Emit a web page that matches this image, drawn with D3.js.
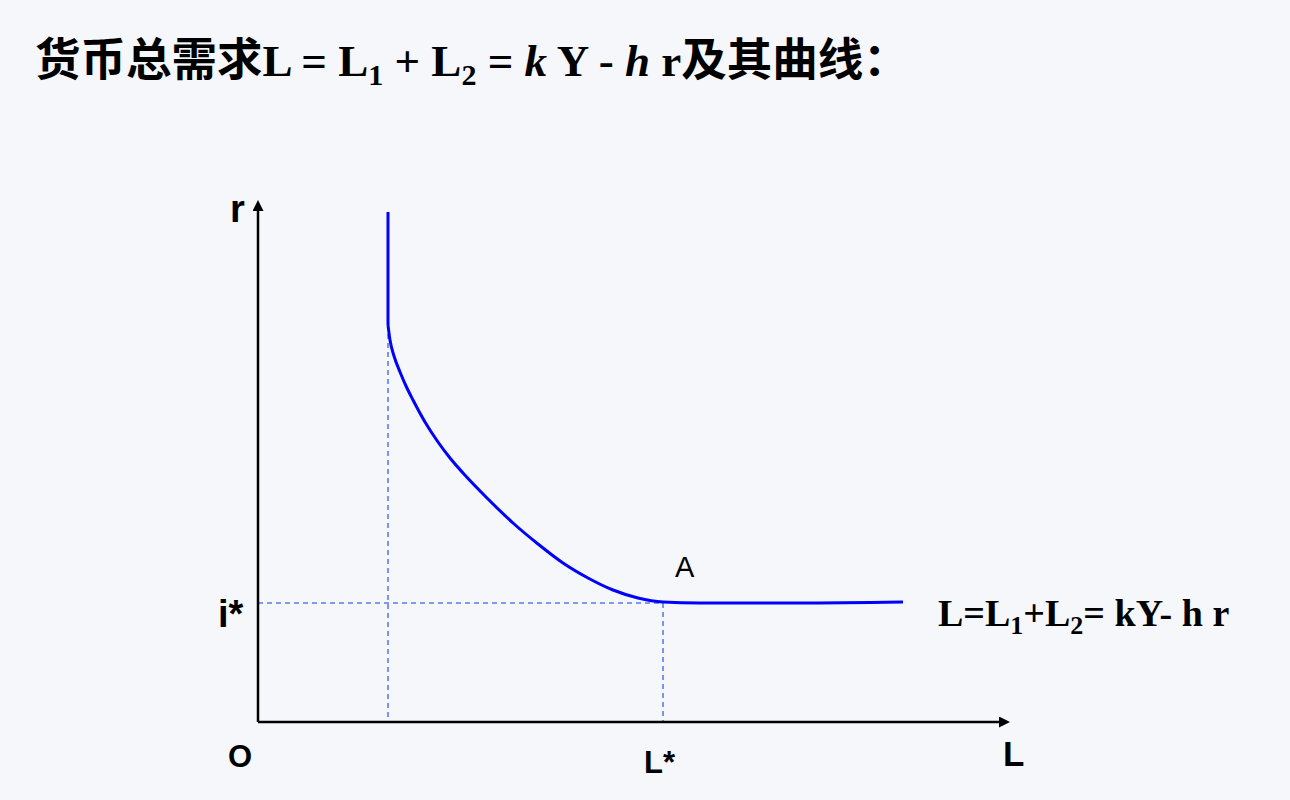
<!DOCTYPE html>
<html>
<head>
<meta charset="utf-8">
<script src="https://cdn.jsdelivr.net/npm/d3@7"></script>
<style>
  html, body { margin: 0; padding: 0; background: #f6f7fa; }
  svg { display: block; }
</style>
</head>
<body>
<svg id="chart" width="1290" height="800"></svg>
<script>
// ---- data (abstract units: L on x, r on y) ----
const axisMax = { L: 750, r: 520 };
const verticalPart = [ { L: 130, r: 510 }, { L: 130, r: 397 } ];
const curveL = [130, 132, 136, 142, 148, 155, 167, 180, 192, 205, 230, 255, 280, 305, 330, 355, 380, 405, 442, 542, 645];
const curveR = [397, 382, 366, 350, 336, 322, 300, 280, 264, 249, 223, 199, 178, 159, 144, 132, 124, 120, 119, 119, 120];
const pointA = { L: 405, r: 119, label: "A" };
const liquidityTrapL = 130;
const tickLabelsX = ["L*"];
const tickLabelsY = ["i*"];
const axisNames = { x: "L", y: "r", origin: "O" };

const svg = d3.select("#chart");
svg.append("rect").attr("width", 1290).attr("height", 800).attr("fill", "#f6f7fa");

const x = d3.scaleLinear().domain([0, axisMax.L]).range([258, 1008]);
const y = d3.scaleLinear().domain([0, axisMax.r]).range([722, 202]);

// ---- title ----
const title = svg.append("text").attr("x", 35).attr("y", 76).attr("fill", "#000");
const cjk = "'Noto Sans CJK SC', sans-serif";
const serif = "'Liberation Serif', 'Times New Roman', serif";
const parts = [
  { t: "货币总需求", f: cjk, s: 45.5 },
  { t: "L = L", f: serif, s: 45 },
  { t: "1", f: serif, s: 30, sub: true },
  { t: " + L", f: serif, s: 45 },
  { t: "2", f: serif, s: 30, sub: true },
  { t: " = ", f: serif, s: 45 },
  { t: "k", f: serif, s: 45, it: true },
  { t: " Y - ", f: serif, s: 45 },
  { t: "h", f: serif, s: 45, it: true },
  { t: " r", f: serif, s: 45 },
  { t: "及其曲线：", f: cjk, s: 45.5 }
];
let prevSub = false;
parts.forEach(p => {
  const ts = title.append("tspan").text(p.t)
    .attr("font-family", p.f).attr("font-size", p.s).attr("font-weight", "bold")
    .attr("font-style", p.it ? "italic" : "normal")
    .style("white-space", "pre");
  if (p.sub) ts.attr("dy", 9);
  else if (prevSub) ts.attr("dy", -9);
  prevSub = !!p.sub;
});

// ---- dashed guides ----
const guides = svg.append("g").attr("stroke", "#5a7cf0").attr("stroke-width", 1.6)
  .attr("stroke-dasharray", "5,4").attr("fill", "none");
guides.append("line").attr("x1", x(0)).attr("x2", x(pointA.L)).attr("y1", y(pointA.r)).attr("y2", y(pointA.r));
guides.append("line").attr("x1", x(pointA.L)).attr("x2", x(pointA.L)).attr("y1", y(pointA.r)).attr("y2", y(0));
guides.append("line").attr("x1", x(liquidityTrapL)).attr("x2", x(liquidityTrapL)).attr("y1", y(verticalPart[1].r)).attr("y2", y(0));

// ---- axes ----
const defs = svg.append("defs");
defs.append("marker").attr("id", "arrow").attr("viewBox", "0 0 10 10")
  .attr("refX", 0).attr("refY", 5).attr("markerWidth", 4.4).attr("markerHeight", 4.4)
  .attr("markerUnits", "strokeWidth").attr("orient", "auto")
  .append("path").attr("d", "M0,0L10,5L0,10Z").attr("fill", "#000");

const xAxis = d3.axisBottom(x).tickValues([]).tickSizeOuter(0);
const yAxis = d3.axisLeft(y).tickValues([]).tickSizeOuter(0);
const gx = svg.append("g").attr("transform", `translate(0,${y(0)})`).call(xAxis);
const gy = svg.append("g").attr("transform", `translate(${x(0)},0)`).call(yAxis);
gx.select(".domain").attr("d", `M${x(0)},0H${x(axisMax.L) - 9}`).attr("stroke", "#000").attr("stroke-width", 2.5).attr("marker-end", "url(#arrow)");
gy.select(".domain").attr("d", `M0,0V${y(axisMax.r) - y(0) + 9}`).attr("transform", `translate(0,${y(0)})`)
  .attr("stroke", "#000").attr("stroke-width", 2.5).attr("marker-end", "url(#arrow)");

// ---- curve ----
const curveData = curveL.map((L, i) => ({ L, r: curveR[i] }));
const lineLin = d3.line().x(d => x(d.L)).y(d => y(d.r));
const lineSmooth = d3.line().x(d => x(d.L)).y(d => y(d.r)).curve(d3.curveMonotoneX);
svg.append("path").datum(verticalPart).attr("d", lineLin)
  .attr("fill", "none").attr("stroke", "#0000ff").attr("stroke-width", 3);
svg.append("path").datum(curveData).attr("d", lineSmooth)
  .attr("fill", "none").attr("stroke", "#0000ff").attr("stroke-width", 3);

// ---- labels ----
const sans = "'Liberation Sans', Arial, sans-serif";
svg.append("text").attr("x", x(0) - 28).attr("y", y(axisMax.r) + 20).text(axisNames.y)
  .attr("font-family", sans).attr("font-weight", "bold").attr("font-size", 38);
svg.append("text").attr("x", x(0) - 40).attr("y", y(pointA.r) + 24).text(tickLabelsY[0])
  .attr("font-family", sans).attr("font-weight", "bold").attr("font-size", 38);
svg.append("text").attr("x", x(0) - 30).attr("y", 767).text(axisNames.origin)
  .attr("font-family", sans).attr("font-weight", "bold").attr("font-size", 31);
svg.append("text").attr("x", x(pointA.L) - 19).attr("y", 773).text(tickLabelsX[0])
  .attr("font-family", sans).attr("font-weight", "bold").attr("font-size", 31);
svg.append("text").attr("x", x(axisMax.L) - 5).attr("y", 766).text(axisNames.x)
  .attr("font-family", sans).attr("font-weight", "bold").attr("font-size", 35);
svg.append("text").attr("x", x(pointA.L) + 12).attr("y", 577).text(pointA.label)
  .attr("font-family", sans).attr("font-size", 29);

// curve equation label
const lab = svg.append("text").attr("x", 938).attr("y", 626)
  .attr("font-family", serif).attr("font-weight", "bold").attr("font-size", 38);
[["L=L", 0], ["1", 1], ["+L", -1], ["2", 1], ["= kY- h r", -1]].forEach(([t, s]) => {
  const ts = lab.append("tspan").text(t).style("white-space", "pre");
  if (s === 1) ts.attr("font-size", 26).attr("dy", 8);
  if (s === -1) ts.attr("dy", -8);
});
</script>
</body>
</html>
